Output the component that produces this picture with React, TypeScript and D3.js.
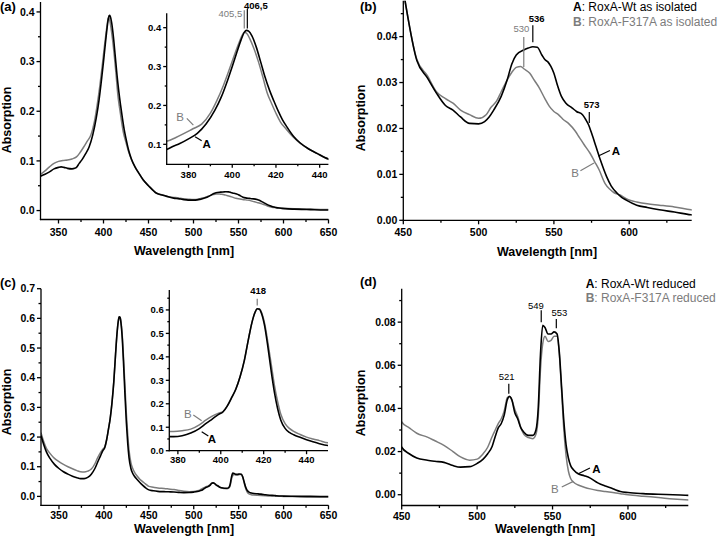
import React from "react";
import * as d3 from "d3";

// ---------- DATA: "as isolated" spectra (panels a, b) ----------
const isoA_nm = [330,335,340,345,350,353,356,360,365,368,370,373,376,380,384,388,392,395,398,400,402,404,405.5,406.5,407.5,409,411,413,415,417,419,421,423,425,428,431,435,439,444,450,459,466,472,478,483,488,494,500,504,507,510,515,519,522,525,530,533,536,539,542,544,546,548,550,552,555,558,562,565,569,571,573,575,578,581,585,588,592,595,598,605,612,620,630,641,650];
const isoA_abs = [0.069,0.073,0.078,0.084,0.087,0.088,0.087,0.085,0.084,0.085,0.087,0.095,0.102,0.114,0.128,0.152,0.187,0.222,0.267,0.300,0.335,0.368,0.388,0.393,0.391,0.379,0.350,0.312,0.273,0.240,0.212,0.186,0.163,0.145,0.121,0.104,0.088,0.076,0.062,0.050,0.0348,0.031,0.0277,0.025,0.024,0.0225,0.0211,0.021,0.0215,0.0225,0.024,0.027,0.0306,0.034,0.036,0.0371,0.0375,0.0378,0.0377,0.036,0.035,0.0345,0.0335,0.032,0.0298,0.027,0.0255,0.0245,0.0237,0.023,0.022,0.0208,0.019,0.016,0.013,0.0095,0.0075,0.0059,0.005,0.0044,0.0033,0.0028,0.0023,0.0018,0.0012,0.001];
const isoB_nm = [330,335,340,345,350,355,360,365,370,374,378,382,386,390,393,396,399,401,403,404.5,405.5,406.5,408,410,412,414,416,418,420,422,425,428,431,435,439,444,450,459,466,472,478,483,488,494,500,505,508,512,515,519,522,525,528,530,534,537,540,544,547,550,553,556,560,564,567,570,574,577,580,584,587,590,594,598,601,605,612,620,630,641,650];
const isoB_abs = [0.073,0.080,0.088,0.095,0.099,0.101,0.102,0.104,0.108,0.117,0.128,0.140,0.152,0.180,0.213,0.252,0.298,0.330,0.360,0.380,0.388,0.386,0.372,0.345,0.312,0.273,0.232,0.205,0.180,0.158,0.137,0.118,0.103,0.088,0.076,0.062,0.050,0.035,0.0315,0.028,0.0265,0.0255,0.024,0.023,0.0222,0.023,0.0245,0.026,0.028,0.0306,0.0322,0.0333,0.0335,0.033,0.032,0.0305,0.029,0.0265,0.0248,0.0237,0.023,0.022,0.021,0.0195,0.018,0.0165,0.0146,0.0128,0.011,0.008,0.0068,0.006,0.0055,0.0047,0.0043,0.0040,0.0036,0.0033,0.0029,0.0023,0.0020];

// ---------- DATA: "reduced" spectra (panels c, d) ----------
const red_nm = [330,333,336,340,345,350,355,360,365,370,374,378,382,386,390,393,396,399,401,403,405,407,409,411,413,414.5,416,417,418,419,420.5,422,423.5,425,426.5,428,430,432,434,437,440,443,446,450,455,460,467,472,478,484,489,495,500,504,507,510,512,514,516,518,520,521.5,523,525,527,529,531,534,537,539,540.5,542,543.5,545,547,549,551,553,554.5,556,557.5,559,560.5,562,564,567,571,575,580,585,590,592,595,600,610,620,630,641,650];
const redA_abs = [0.205,0.175,0.150,0.128,0.108,0.094,0.083,0.075,0.068,0.063,0.060,0.060,0.064,0.075,0.094,0.115,0.135,0.155,0.165,0.190,0.225,0.262,0.315,0.385,0.480,0.545,0.590,0.605,0.603,0.585,0.530,0.440,0.340,0.250,0.180,0.130,0.095,0.078,0.068,0.057,0.047,0.038,0.030,0.022,0.019,0.017,0.016,0.0155,0.015,0.0135,0.0128,0.013,0.0145,0.0165,0.019,0.0225,0.027,0.031,0.033,0.037,0.044,0.0455,0.044,0.038,0.035,0.031,0.029,0.0275,0.0275,0.030,0.040,0.065,0.0785,0.0775,0.0745,0.0745,0.0755,0.0745,0.066,0.050,0.034,0.023,0.017,0.0135,0.0115,0.0097,0.0088,0.0077,0.0055,0.004,0.0028,0.0022,0.0015,0.001,0.0005,0.0002,0.0,-0.0003,-0.0004];
const redB_abs = [0.215,0.185,0.162,0.145,0.128,0.117,0.108,0.100,0.093,0.087,0.083,0.082,0.085,0.092,0.110,0.130,0.147,0.160,0.167,0.190,0.225,0.262,0.315,0.385,0.480,0.545,0.590,0.605,0.605,0.590,0.540,0.460,0.370,0.280,0.210,0.155,0.115,0.095,0.082,0.069,0.058,0.050,0.043,0.0337,0.031,0.0285,0.0267,0.025,0.0229,0.020,0.0175,0.016,0.0165,0.019,0.022,0.027,0.030,0.033,0.0352,0.039,0.045,0.0457,0.044,0.0395,0.036,0.031,0.028,0.0265,0.026,0.028,0.036,0.058,0.070,0.0735,0.071,0.0715,0.0735,0.0735,0.065,0.048,0.030,0.018,0.011,0.0075,0.0058,0.0045,0.0035,0.0027,0.002,0.0015,0.001,0.0008,0.0005,0.0,-0.0007,-0.0013,-0.002,-0.0025,-0.0027];

// ---------- TICKS ----------
const wideXMajor = [350,400,450,500,550,600,650];
const wideXMinor = [375,425,475,525,575,625];
const zoomXMajor = [450,500,550,600];
const zoomXMinor = [475,525,575,625];
const insetXMajor = [380,400,420,440];
const insetXMinor = [390,410,430];
const aYMajor = [0,0.1,0.2,0.3,0.4];
const aYMinor = [0.05,0.15,0.25,0.35];
const aInsetYMajor = [0.1,0.2,0.3,0.4];
const aInsetYMinor = [0.15,0.25,0.35];
const bYMajor = [0,0.01,0.02,0.03,0.04];
const bYMinor = [0.005,0.015,0.025,0.035,0.045];
const cYMajor = [0,0.1,0.2,0.3,0.4,0.5,0.6,0.7];
const cYMinor = [0.05,0.15,0.25,0.35,0.45,0.55,0.65];
const cInsetYMajor = [0,0.1,0.2,0.3,0.4,0.5,0.6];
const cInsetYMinor = [0.05,0.15,0.25,0.35,0.45,0.55,0.65];
const dYMajor = [0,0.02,0.04,0.06,0.08];
const dYMinor = [0.01,0.03,0.05,0.07,0.09];

// ---------- TEXT ----------
const legendIso = ["RoxA-Wt as isolated", "RoxA-F317A as isolated"];
const legendRed = ["RoxA-Wt reduced", "RoxA-F317A reduced"];
const xTitle = "Wavelength [nm]";
const yTitle = "Absorption";

const FONT = "'Liberation Sans', Arial, Helvetica, sans-serif";
const BLACK = "#000";
const GRAY = "#7c7c7c";

type Series = { nm: number[]; abs: number[]; color: string; width: number };
type Sc = d3.ScaleLinear<number, number>;

function Panel(p: {
  id: string;
  left: number; right: number; top: number; bottom: number;
  xDomain: [number, number]; yDomain: [number, number];
  xMajor: number[]; xMinor: number[]; yMajor: number[]; yMinor: number[];
  yFmt: string; fontSize: number; xLabelDy: number; majorLen: number; minorLen: number;
  series: Series[];
  extra?: (x: Sc, y: Sc) => React.ReactNode;
}) {
  const x = d3.scaleLinear().domain(p.xDomain).range([p.left, p.right]);
  const y = d3.scaleLinear().domain(p.yDomain).range([p.bottom, p.top]);
  const fmt = d3.format(p.yFmt);
  const line = d3
    .line<[number, number]>()
    .x((d) => x(d[0]))
    .y((d) => y(d[1]))
    .curve(d3.curveMonotoneX);
  return (
    <g>
      <defs>
        <clipPath id={p.id}>
          <rect x={p.left} y={p.top} width={p.right - p.left} height={p.bottom - p.top} />
        </clipPath>
      </defs>
      <g clipPath={`url(#${p.id})`}>
        {p.series.map((s, i) => (
          <path
            key={i}
            d={line(s.nm.map((n, j) => [n, s.abs[j]] as [number, number])) || ""}
            fill="none"
            stroke={s.color}
            strokeWidth={s.width}
            strokeLinejoin="round"
          />
        ))}
      </g>
      <g stroke={BLACK} strokeWidth={1.3}>
        <line x1={p.left} y1={p.top} x2={p.left} y2={p.bottom + 0.6} />
        <line x1={p.left - 0.6} y1={p.bottom} x2={p.right} y2={p.bottom} />
        {p.yMajor.map((v) => (
          <line key={"ym" + v} x1={p.left - p.majorLen} x2={p.left} y1={y(v)} y2={y(v)} />
        ))}
        {p.yMinor.filter((v) => y(v) >= p.top - 0.5).map((v) => (
          <line key={"yn" + v} x1={p.left - p.minorLen} x2={p.left} y1={y(v)} y2={y(v)} />
        ))}
        {p.xMajor.map((v) => (
          <line key={"xm" + v} x1={x(v)} x2={x(v)} y1={p.bottom} y2={p.bottom + p.majorLen} />
        ))}
        {p.xMinor.map((v) => (
          <line key={"xn" + v} x1={x(v)} x2={x(v)} y1={p.bottom} y2={p.bottom + p.minorLen} />
        ))}
      </g>
      <g fontFamily={FONT} fontSize={p.fontSize} fontWeight="bold" fill={BLACK}>
        {p.yMajor.map((v) => (
          <text key={"yl" + v} x={p.left - p.majorLen - 2} y={y(v)} dy="0.35em" textAnchor="end">
            {fmt(v)}
          </text>
        ))}
        {p.xMajor.map((v) => (
          <text key={"xl" + v} x={x(v)} y={p.bottom + p.xLabelDy} textAnchor="middle">
            {v}
          </text>
        ))}
      </g>
      {p.extra ? p.extra(x, y) : null}
    </g>
  );
}

function Mark(props: { x: Sc; y: Sc; nm: number; v0: number; v1: number; color: string; w?: number }) {
  const { x, y } = props;
  return (
    <line
      x1={x(props.nm)} x2={x(props.nm)} y1={y(props.v0)} y2={y(props.v1)}
      stroke={props.color} strokeWidth={props.w ?? 1.2}
    />
  );
}

function Lbl(props: {
  x: Sc; y: Sc; nm: number; v: number; text: string; color: string;
  size: number; bold?: boolean; anchor?: string;
}) {
  return (
    <text
      x={props.x(props.nm)} y={props.y(props.v)} fill={props.color}
      fontFamily={FONT} fontSize={props.size} fontWeight={props.bold ? "bold" : "normal"}
      textAnchor={props.anchor ?? "middle"}
    >
      {props.text}
    </text>
  );
}

function Leader(props: { x: Sc; y: Sc; a: [number, number]; b: [number, number]; color: string }) {
  const { x, y } = props;
  return (
    <line
      x1={x(props.a[0])} y1={y(props.a[1])} x2={x(props.b[0])} y2={y(props.b[1])}
      stroke={props.color} strokeWidth={1.2}
    />
  );
}

function Titles(props: { xCx: number; xBase: number; yCy: number; yBase: number; tag: string; tagX: number; tagY: number }) {
  return (
    <g fontFamily={FONT} fontWeight="bold" fill={BLACK}>
      <text x={props.xCx} y={props.xBase} fontSize={12.5} textAnchor="middle">{xTitle}</text>
      <text
        transform={`translate(${props.yBase},${props.yCy}) rotate(-90)`}
        fontSize={12.5} textAnchor="middle"
      >
        {yTitle}
      </text>
      <text x={props.tagX} y={props.tagY} fontSize={13}>{props.tag}</text>
    </g>
  );
}

function Legend(props: { x: number; y: number; items: string[] }) {
  return (
    <g fontFamily={FONT} fontSize={12}>
      <text x={props.x} y={props.y} fill={BLACK}>
        <tspan fontWeight="bold">A</tspan>
        <tspan>: {props.items[0]}</tspan>
      </text>
      <text x={props.x} y={props.y + 14.5} fill={GRAY}>
        <tspan fontWeight="bold">B</tspan>
        <tspan>: {props.items[1]}</tspan>
      </text>
    </g>
  );
}

export default function App() {
  const isoSeries: Series[] = [
    { nm: isoB_nm, abs: isoB_abs, color: GRAY, width: 1.5 },
    { nm: isoA_nm, abs: isoA_abs, color: BLACK, width: 1.6 },
  ];
  const redSeries: Series[] = [
    { nm: red_nm, abs: redB_abs, color: GRAY, width: 1.5 },
    { nm: red_nm, abs: redA_abs, color: BLACK, width: 1.6 },
  ];
  return (
    <svg
      width={720}
      height={544}
      style={{ position: "absolute", left: 0, top: 0, background: "#fff" }}
    >
      <rect width={720} height={544} fill="#fff" />
      {/* (a) main */}
      <Panel
        id="ca" left={40.5} right={328.5} top={2} bottom={219.5}
        xDomain={[330, 650]} yDomain={[-0.018, 0.42]}
        xMajor={wideXMajor} xMinor={wideXMinor} yMajor={aYMajor} yMinor={aYMinor}
        yFmt=".1f" fontSize={10.5} xLabelDy={16} majorLen={4} minorLen={2.5}
        series={isoSeries}
      />
      {/* (a) inset */}
      <Panel
        id="cai" left={166.7} right={328.4} top={13.3} bottom={164.3}
        xDomain={[370, 444]} yDomain={[0.0486, 0.437]}
        xMajor={insetXMajor} xMinor={insetXMinor} yMajor={aInsetYMajor} yMinor={aInsetYMinor}
        yFmt=".1f" fontSize={9.5} xLabelDy={14} majorLen={3.5} minorLen={2}
        series={isoSeries}
        extra={(x, y) => (
          <g>
            <Mark x={x} y={y} nm={405.5} v0={0.445} v1={0.398} color={GRAY} />
            <Mark x={x} y={y} nm={406.9} v0={0.448} v1={0.398} color={BLACK} />
            <Lbl x={x} y={y} nm={410.8} v={0.449} text="406,5" color={BLACK} size={9.5} bold />
            <Lbl x={x} y={y} nm={404.6} v={0.427} text="405,5" color={GRAY} size={9.5} anchor="end" />
            <Lbl x={x} y={y} nm={376.1} v={0.160} text="B" color={GRAY} size={11.5} />
            <Leader x={x} y={y} a={[379.2, 0.1666]} b={[382.2, 0.1494]} color={GRAY} />
            <Lbl x={x} y={y} nm={388.3} v={0.0905} text="A" color={BLACK} size={11.5} bold />
            <Leader x={x} y={y} a={[383.0, 0.1196]} b={[386.0, 0.1093]} color={BLACK} />
          </g>
        )}
      />
      <Titles xCx={184} xBase={254.5} yCy={120} yBase={10.5} tag="(a)" tagX={0} tagY={11} />

      {/* (b) */}
      <Panel
        id="cb" left={403.3} right={691.7} top={0.8} bottom={220.3}
        xDomain={[450, 641.5]} yDomain={[0, 0.0478]}
        xMajor={zoomXMajor} xMinor={zoomXMinor} yMajor={bYMajor} yMinor={bYMinor}
        yFmt=".2f" fontSize={10.5} xLabelDy={16} majorLen={4} minorLen={2.5}
        series={isoSeries}
        extra={(x, y) => (
          <g>
            <Mark x={x} y={y} nm={536} v0={0.0425} v1={0.0388} color={BLACK} />
            <Lbl x={x} y={y} nm={538.6} v={0.0432} text="536" color={BLACK} size={9.5} bold />
            <Mark x={x} y={y} nm={530} v0={0.0399} v1={0.0334} color={GRAY} />
            <Lbl x={x} y={y} nm={528.4} v={0.041} text="530" color={GRAY} size={9.5} />
            <Mark x={x} y={y} nm={573.5} v0={0.0236} v1={0.0212} color={BLACK} />
            <Lbl x={x} y={y} nm={575.1} v={0.0245} text="573" color={BLACK} size={9.5} bold />
            <Lbl x={x} y={y} nm={591.2} v={0.0143} text="A" color={BLACK} size={11.5} bold />
            <Leader x={x} y={y} a={[579.5, 0.014]} b={[587.2, 0.0152]} color={BLACK} />
            <Lbl x={x} y={y} nm={564} v={0.0094} text="B" color={GRAY} size={11.5} />
            <Leader x={x} y={y} a={[567.6, 0.0108]} b={[576.6, 0.0125]} color={GRAY} />
          </g>
        )}
      />
      <Titles xCx={547} xBase={255.5} yCy={118} yBase={364.5} tag="(b)" tagX={360} tagY={11} />
      <Legend x={573} y={11} items={legendIso} />

      {/* (c) main */}
      <Panel
        id="cc" left={41} right={328.5} top={288.7} bottom={505.3}
        xDomain={[330, 650]} yDomain={[-0.03, 0.7]}
        xMajor={wideXMajor} xMinor={wideXMinor} yMajor={cYMajor} yMinor={cYMinor}
        yFmt=".1f" fontSize={10.5} xLabelDy={14} majorLen={4} minorLen={2.5}
        series={redSeries}
      />
      {/* (c) inset */}
      <Panel
        id="cci" left={169.3} right={328} top={290} bottom={450.7}
        xDomain={[376, 450]} yDomain={[0, 0.685]}
        xMajor={insetXMajor} xMinor={insetXMinor} yMajor={cInsetYMajor} yMinor={cInsetYMinor}
        yFmt=".1f" fontSize={9.5} xLabelDy={12.5} majorLen={3.5} minorLen={2}
        series={redSeries}
        extra={(x, y) => (
          <g>
            <Mark x={x} y={y} nm={417} v0={0.648} v1={0.619} color={GRAY} />
            <Lbl x={x} y={y} nm={417.4} v={0.666} text="418" color={BLACK} size={9.5} bold />
            <Lbl x={x} y={y} nm={384.7} v={0.1415} text="B" color={GRAY} size={11.5} />
            <Leader x={x} y={y} a={[387.2, 0.152]} b={[391.1, 0.128]} color={GRAY} />
            <Lbl x={x} y={y} nm={395.9} v={0.0307} text="A" color={BLACK} size={11.5} bold />
            <Leader x={x} y={y} a={[391.1, 0.081]} b={[394.2, 0.0627]} color={BLACK} />
          </g>
        )}
      />
      <Titles xCx={184} xBase={533} yCy={402} yBase={10.5} tag="(c)" tagX={0} tagY={287} />

      {/* (d) */}
      <Panel
        id="cd" left={401.7} right={688.3} top={288.7} bottom={505.5}
        xDomain={[450, 640]} yDomain={[-0.005, 0.0955]}
        xMajor={zoomXMajor} xMinor={zoomXMinor} yMajor={dYMajor} yMinor={dYMinor}
        yFmt=".2f" fontSize={10.5} xLabelDy={14} majorLen={4} minorLen={2.5}
        series={redSeries}
        extra={(x, y) => (
          <g>
            <Mark x={x} y={y} nm={521} v0={0.0514} v1={0.0468} color={BLACK} />
            <Lbl x={x} y={y} nm={519.6} v={0.0531} text="521" color={BLACK} size={9.5} />
            <Mark x={x} y={y} nm={542.5} v0={0.0855} v1={0.0800} color={BLACK} />
            <Lbl x={x} y={y} nm={539} v={0.086} text="549" color={BLACK} size={9.5} />
            <Mark x={x} y={y} nm={552.5} v0={0.0815} v1={0.0772} color={BLACK} />
            <Lbl x={x} y={y} nm={554.5} v={0.083} text="553" color={BLACK} size={9.5} />
            <Lbl x={x} y={y} nm={579} v={0.0101} text="A" color={BLACK} size={11.5} bold />
            <Leader x={x} y={y} a={[567.1, 0.0097]} b={[574.8, 0.0124]} color={BLACK} />
            <Lbl x={x} y={y} nm={551.6} v={0.0006} text="B" color={GRAY} size={11.5} />
            <Leader x={x} y={y} a={[556.1, 0.0036]} b={[563.8, 0.0062]} color={GRAY} />
          </g>
        )}
      />
      <Titles xCx={545} xBase={533} yCy={403} yBase={364.5} tag="(d)" tagX={360} tagY={286} />
      <Legend x={585.7} y={287.5} items={legendRed} />
    </svg>
  );
}
